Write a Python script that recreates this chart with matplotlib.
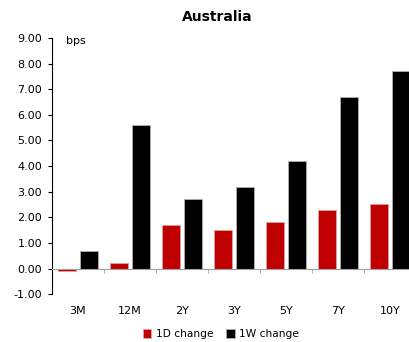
#Australian yield curve moves, 1 day vs 1 week
import numpy as np
import matplotlib.pyplot as plt

#Tenors
tenors = ["3M", "12M", "2Y", "3Y", "5Y", "7Y", "10Y"]

#Change in bps
chg_1d = [-0.1, 0.2, 1.7, 1.5, 1.8, 2.3, 2.5]
chg_1w = [0.7, 5.6, 2.7, 3.2, 4.2, 6.7, 7.7]

x = np.arange(len(tenors))
w = 0.34

fig = plt.figure(figsize=(4.09, 3.42), dpi=100)
ax = fig.add_axes([0.127, 0.140, 0.89, 0.749])

ax.bar(x - 0.21, chg_1d, w, color="#c00000", edgecolor="#e0a0a0", linewidth=0.6, label="1D change")
ax.bar(x + 0.21, chg_1w, w, color="black", edgecolor="#b0b0b0", linewidth=0.6, label="1W change")

ax.set_xlim(-0.5, 6.5)
ax.set_ylim(-1, 9)
ax.set_yticks(np.arange(-1, 10, 1))
ax.set_yticklabels(["%.2f" % v for v in np.arange(-1, 10, 1)], fontsize=8)

#x axis sits at zero, category labels pushed down below the plot
ax.spines["bottom"].set_position(("data", 0))
ax.spines["bottom"].set_color("#a0a0a0")
ax.spines["top"].set_visible(False)
ax.spines["right"].set_visible(False)
ax.spines["left"].set_color("black")
ax.set_xticks(x)
ax.set_xticklabels(tenors, fontsize=8)
ax.set_xticks(x[:-1] + 0.5, minor=True)
ax.tick_params(axis="x", which="major", length=0, pad=27)
ax.tick_params(axis="x", which="minor", length=3, color="#a0a0a0", direction="out")
ax.tick_params(axis="y", length=3, direction="out", pad=4)

ax.text(0.038, 0.99, "bps", transform=ax.transAxes, fontsize=8, va="center", ha="left")
ax.set_title("Australia", fontsize=10, fontweight="bold", x=0.453, pad=12)

fig.legend(loc="lower center", bbox_to_anchor=(0.54, -0.02), ncol=2, frameon=False,
           fontsize=7.7, handlelength=0.8, handleheight=0.8, handletextpad=0.4, columnspacing=1.2)

plt.savefig("out.png", dpi=100)
